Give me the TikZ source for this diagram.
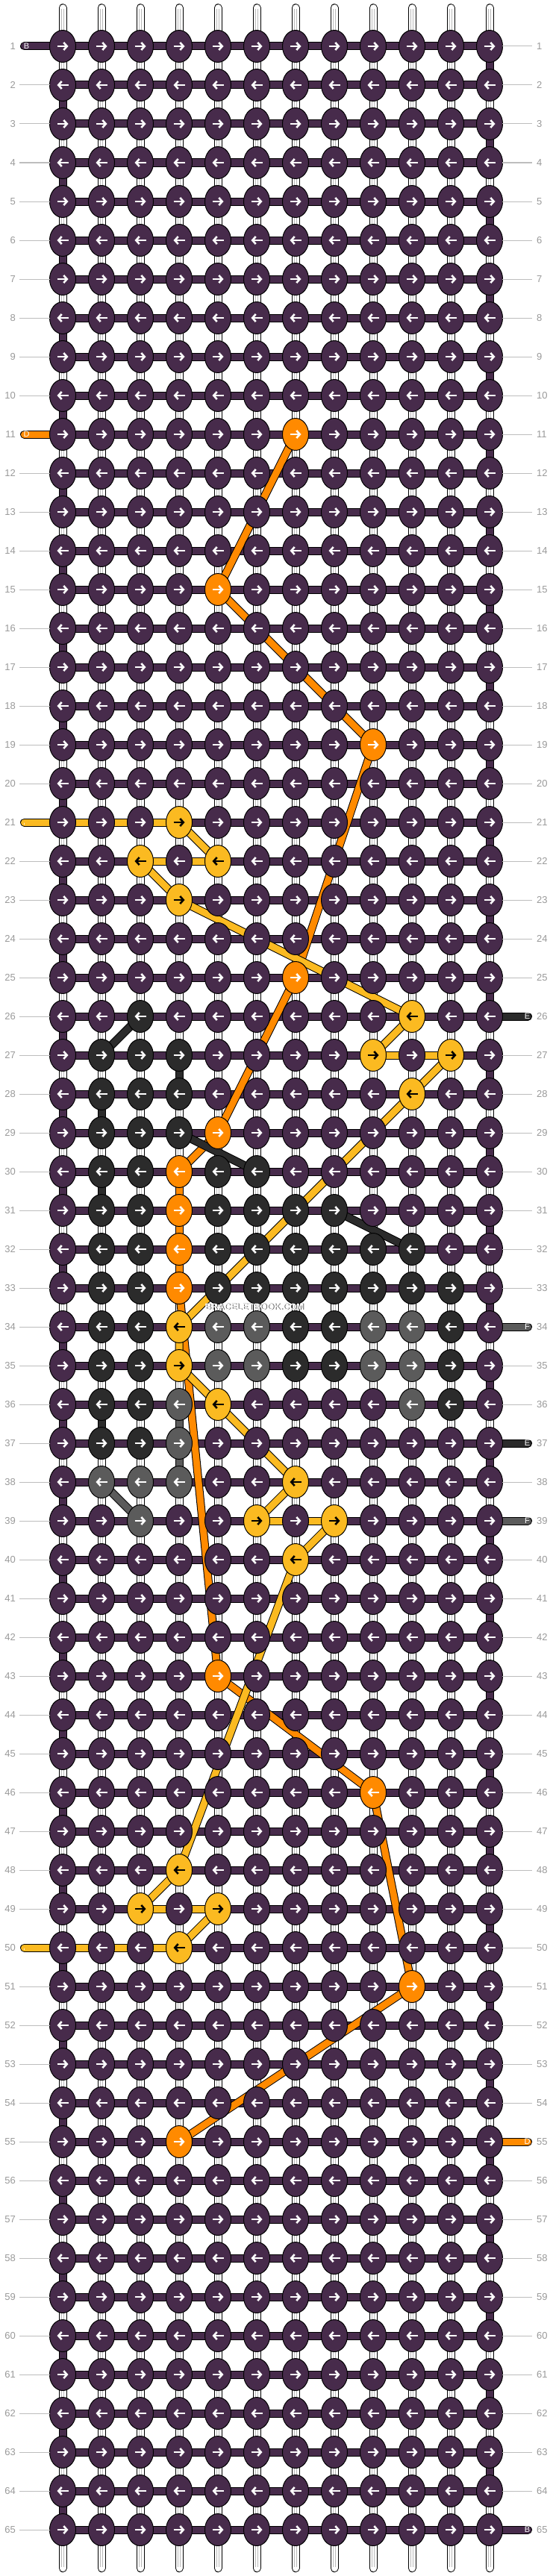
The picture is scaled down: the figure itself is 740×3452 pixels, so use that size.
\documentclass[tikz,border=0pt]{standalone}
\usepackage{fontspec}
\setmainfont{Liberation Sans}
\usetikzlibrary{arrows.meta,shapes.geometric}
\definecolor{pur}{HTML}{472B4B}
\definecolor{org}{HTML}{FF8A00}
\definecolor{yel}{HTML}{FBBA21}
\definecolor{drk}{HTML}{2B2B2B}
\definecolor{gry}{HTML}{5B5B5B}
\definecolor{lbl}{HTML}{9A9A9A}
\definecolor{lin}{HTML}{BDBDBD}
\tikzset{
 knot/.style={ellipse, draw=black, line width=1pt, minimum width=35pt, minimum height=43pt, inner sep=0pt},
 band/.style={draw=black, line width=1pt, double distance=9pt, double=#1},
 tubeo/.style={draw=black, line width=11pt, line cap=round},
 tubei/.style={draw=white, line width=9pt, line cap=round},
 tubel/.style={draw=gray!55, line width=0.8pt},
 arr/.style={line width=2.6pt, -{Straight Barb[length=4.5pt,width=10pt]}},
 rowno/.style={text=lbl, font=\fontsize{13}{15}\selectfont, inner sep=0pt},
 endlbl/.style={text=white, font=\fontsize{11}{13}\selectfont, inner sep=0pt},
 rowline/.style={draw=lin, line width=1pt},
}
\newcommand\setk[3]{\expandafter\xdef\csname kc-#1-#2\endcsname{#3}}
\newcommand\lend[3]{%
 \coordinate (eL-#1) at (32.5,{62+52*(#1-1)});
 \draw[band=#2, line cap=round] (eL-#1) -- (p-#1-0);
 \node[endlbl] (eLt-#1) at (35.5,{62+52*(#1-1)}) {#3};}
\newcommand\rend[3]{%
 \coordinate (eR-#1) at (707.5,{62+52*(#1-1)});
 \draw[band=#2, line cap=round] (p-#1-11) -- (eR-#1);
 \node[endlbl] (eRt-#1) at (706.5,{62+52*(#1-1)}) {#3};}
\def\ylw{yel}
\begin{document}
\begin{tikzpicture}[x=1pt,y=-1pt]
\useasboundingbox[fill=white] (0,0) rectangle (740,3452);
\foreach \r in {1,...,65}{\foreach \c in {0,...,11}{\coordinate (p-\r-\c) at ({84+52*\c},{62+52*(\r-1)});}}
% warp tubes
\foreach \c in {0,...,11}{
 \coordinate (tt-\c) at ({84+52*\c},10.5); \coordinate (tb-\c) at ({84+52*\c},3441.5);
 \draw[tubeo] (tt-\c) -- (tb-\c); \draw[tubei] (tt-\c) -- (tb-\c);
 \draw[tubel] ({84+52*\c-1.7},12) -- ({84+52*\c-1.7},3440);
 \draw[tubel] ({84+52*\c+1.7},12) -- ({84+52*\c+1.7},3440);
}
% edge turns
\foreach \r in {1,3,...,63}{\pgfmathtruncatemacro\rn{\r+1}\draw[band=pur] (p-\r-11) -- (p-\rn-11);}
\foreach \r in {2,4,...,64}{\pgfmathtruncatemacro\rn{\r+1}\draw[band=pur] (p-\r-0) -- (p-\rn-0);}
% row bands
\foreach \r in {1,...,65}{\draw[band=pur] (p-\r-0) -- (p-\r-11);}
% strand ends
\lend{1}{pur}{B}
\lend{11}{org}{D}
\lend{21}{yel}{A}
\lend{50}{yel}{A}
\rend{26}{drk}{E}
\rend{34}{gry}{F}
\rend{37}{drk}{E}
\rend{39}{gry}{F}
\rend{55}{org}{D}
\rend{65}{pur}{B}
% coloured band segments
\draw[band=yel] (eL-21) -- (p-21-3);
\draw[band=yel] (p-22-2) -- (p-22-4);
\draw[band=yel] (p-27-8) -- (p-27-10);
\draw[band=yel] (p-39-5) -- (p-39-7);
\draw[band=yel] (p-49-2) -- (p-49-4);
\draw[band=yel] (eL-50) -- (p-50-3);
% vertical coloured segments
\draw[band=drk] (p-27-3) -- (p-28-3);
\draw[band=drk] (p-28-1) -- (p-29-1);
\draw[band=drk] (p-30-1) -- (p-31-1);
\draw[band=drk] (p-36-1) -- (p-37-1);
\draw[band=gry] (p-36-3) -- (p-38-3);
\draw[band=org] (p-30-3) -- (p-33-3);
% diagonal threads
\draw[band=org] (p-11-6) -- (p-15-4) -- (p-19-8) -- (p-25-6) -- (p-29-4) -- (p-30-3);
\draw[band=org] (p-33-3) -- (p-43-4) -- (p-46-8) -- (p-51-9) -- (p-55-3);
\draw[band=yel] (p-21-3) -- (p-22-4);
\draw[band=yel] (p-22-2) -- (p-23-3) -- (p-26-9) -- (p-27-8);
\draw[band=yel] (p-27-10) -- (p-28-9) -- (p-34-3) -- (p-35-3) -- (p-36-4) -- (p-38-6) -- (p-39-5);
\draw[band=yel] (p-39-7) -- (p-40-6) -- (p-48-3) -- (p-49-2);
\draw[band=yel] (p-49-4) -- (p-50-3);
\draw[band=drk] (p-26-2) -- (p-27-1);
\draw[band=drk] (p-29-3) -- (p-30-5);
\draw[band=drk] (p-31-7) -- (p-32-9);
\draw[band=gry] (p-38-1) -- (p-39-2);
% knot colours
\foreach \r/\c/\k in {
11/6/org,15/4/org,19/8/org,25/6/org,29/4/org,30/3/org,31/3/org,32/3/org,33/3/org,43/4/org,46/8/org,51/9/org,55/3/org,
21/3/yel,22/2/yel,22/4/yel,23/3/yel,26/9/yel,27/8/yel,27/10/yel,28/9/yel,34/3/yel,35/3/yel,36/4/yel,38/6/yel,39/5/yel,39/7/yel,40/6/yel,48/3/yel,49/2/yel,49/4/yel,50/3/yel,
26/2/drk,27/1/drk,27/2/drk,27/3/drk,28/1/drk,28/2/drk,28/3/drk,29/1/drk,29/2/drk,29/3/drk,
30/1/drk,30/2/drk,30/4/drk,30/5/drk,
31/1/drk,31/2/drk,31/4/drk,31/5/drk,31/6/drk,31/7/drk,
32/1/drk,32/2/drk,32/4/drk,32/5/drk,32/6/drk,32/7/drk,32/8/drk,32/9/drk,
33/1/drk,33/2/drk,33/4/drk,33/5/drk,33/6/drk,33/7/drk,33/8/drk,33/9/drk,33/10/drk,
34/1/drk,34/2/drk,34/4/gry,34/5/gry,34/6/drk,34/7/drk,34/8/gry,34/9/gry,34/10/drk,
35/1/drk,35/2/drk,35/4/gry,35/5/gry,35/6/drk,35/7/drk,35/8/gry,35/9/gry,35/10/drk,
36/1/drk,36/2/drk,36/3/gry,36/9/gry,36/10/drk,
37/1/drk,37/2/drk,37/3/gry,
38/1/gry,38/2/gry,38/3/gry,
39/2/gry}{\setk{\r}{\c}{\k}}
% knots
\foreach \r in {1,...,65}{\foreach \c in {0,...,11}{
 \ifcsname kc-\r-\c\endcsname\edef\kk{\csname kc-\r-\c\endcsname}\else\def\kk{pur}\fi
 \ifx\kk\ylw\def\ac{black}\else\def\ac{white}\fi
 \node[knot, fill=\kk] (k-\r-\c) at (p-\r-\c) {};
 \ifodd\r
  \draw[arr, draw=\ac] ([xshift=-7.5pt]k-\r-\c.center) -- ([xshift=7.5pt]k-\r-\c.center);
 \else
  \draw[arr, draw=\ac] ([xshift=7.5pt]k-\r-\c.center) -- ([xshift=-7.5pt]k-\r-\c.center);
 \fi
}}
% row labels
\foreach \r in {1,...,65}{
 \node[rowno, anchor=east] (nl-\r) at (21,{62+52*(\r-1)}) {\r};
 \node[rowno, anchor=west] (nr-\r) at (719,{62+52*(\r-1)}) {\r};
}
\foreach \r in {2,...,10,12,13,...,20,22,23,...,49,51,52,...,65}{\draw[rowline] (26,{62+52*(\r-1)}) -- (67,{62+52*(\r-1)});}
\foreach \r in {1,2,...,25,27,28,...,33,35,36,38,40,41,...,54,56,57,...,64}{\draw[rowline] (673,{62+52*(\r-1)}) -- (713,{62+52*(\r-1)});}
% watermark
\node[text=drk, font=\bfseries\fontsize{12}{14}\selectfont] (wm0) at (341.8,1751.8) {BRACELETBOOK.COM};
\node[text=white, font=\bfseries\fontsize{12}{14}\selectfont] (wm) at (341,1751) {BRACELETBOOK.COM};
\end{tikzpicture}
\end{document}
